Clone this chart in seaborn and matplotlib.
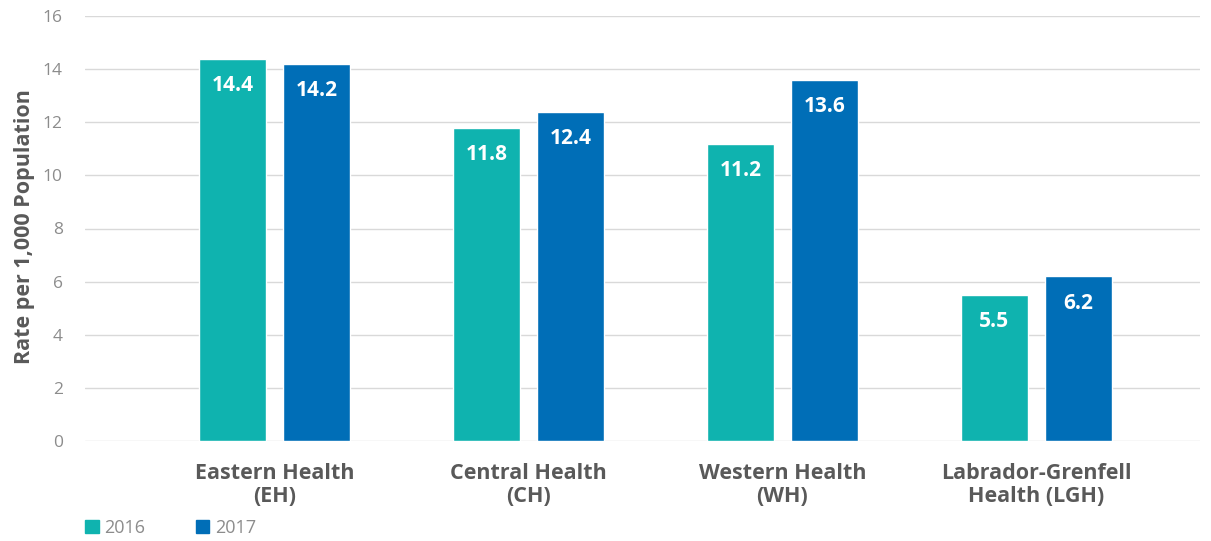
import numpy as np
import pandas as pd
import matplotlib
matplotlib.use('Agg')
import matplotlib.pyplot as plt
import seaborn as sns
from matplotlib.patches import Patch

# 지역별 데이터
regions = ['Eastern Health\n(EH)', 'Central Health\n(CH)', 'Western Health\n(WH)',
           'Labrador-Grenfell\nHealth (LGH)']
years = ['2016', '2017']
rate_2016 = [14.4, 11.8, 11.2, 5.5]
rate_2017 = [14.2, 12.4, 13.6, 6.2]

df = pd.DataFrame({
    'region': regions * 2,
    'year': [years[0]] * 4 + [years[1]] * 4,
    'rate': rate_2016 + rate_2017,
})

sns.set_style('white')
plt.rcParams['font.family'] = ['Open Sans', 'DejaVu Sans']

fig = plt.figure(figsize=(12.11, 5.41), dpi=100)
ax = fig.add_axes([85 / 1211, 1 - 441 / 541, 1115 / 1211, 425 / 541])

palette = {'2016': '#0fb3af', '2017': '#006eb7'}
sns.barplot(data=df, x='region', y='rate', hue='year', palette=palette,
            width=0.661, gap=0.202, saturation=1, ax=ax, legend=False)

# 막대 위에 값 표시
for cont in ax.containers:
    ax.bar_label(cont, fmt='%.1f', label_type='edge', padding=-27,
                 color='white', fontsize=15, fontweight='bold')

ax.set_ylim(0, 16)
ax.set_yticks(range(0, 17, 2))
ax.set_xlim(-0.746, 3.644)
ax.grid(axis='y', color='#d9d9d9', linewidth=1)
ax.set_axisbelow(True)
for s in ax.spines.values():
    s.set_visible(False)

ax.tick_params(axis='y', length=0, pad=16, labelsize=12.5, labelcolor='#8c8c8c')
ax.tick_params(axis='x', length=0, pad=16, labelsize=15.5, labelcolor='#595959')
for lab in ax.get_xticklabels():
    lab.set_fontweight('bold')
    lab.set_linespacing(1.1)

ax.set_xlabel('')
ax.set_ylabel('Rate per 1,000 Population', fontsize=15.5, fontweight='bold',
              color='#595959')
ax.yaxis.set_label_coords(-0.045, 0.505)

# 범례
handles = [Patch(color=palette[y], label=y) for y in years]
fig.legend(handles=handles, loc='lower left', bbox_to_anchor=(69 / 1211, -0.022),
           ncol=2, frameon=False, fontsize=13, labelcolor='#8c8c8c',
           handlelength=0.75, handleheight=0.75, handletextpad=0.3, columnspacing=2.8)

plt.savefig('out.png', dpi=100)
